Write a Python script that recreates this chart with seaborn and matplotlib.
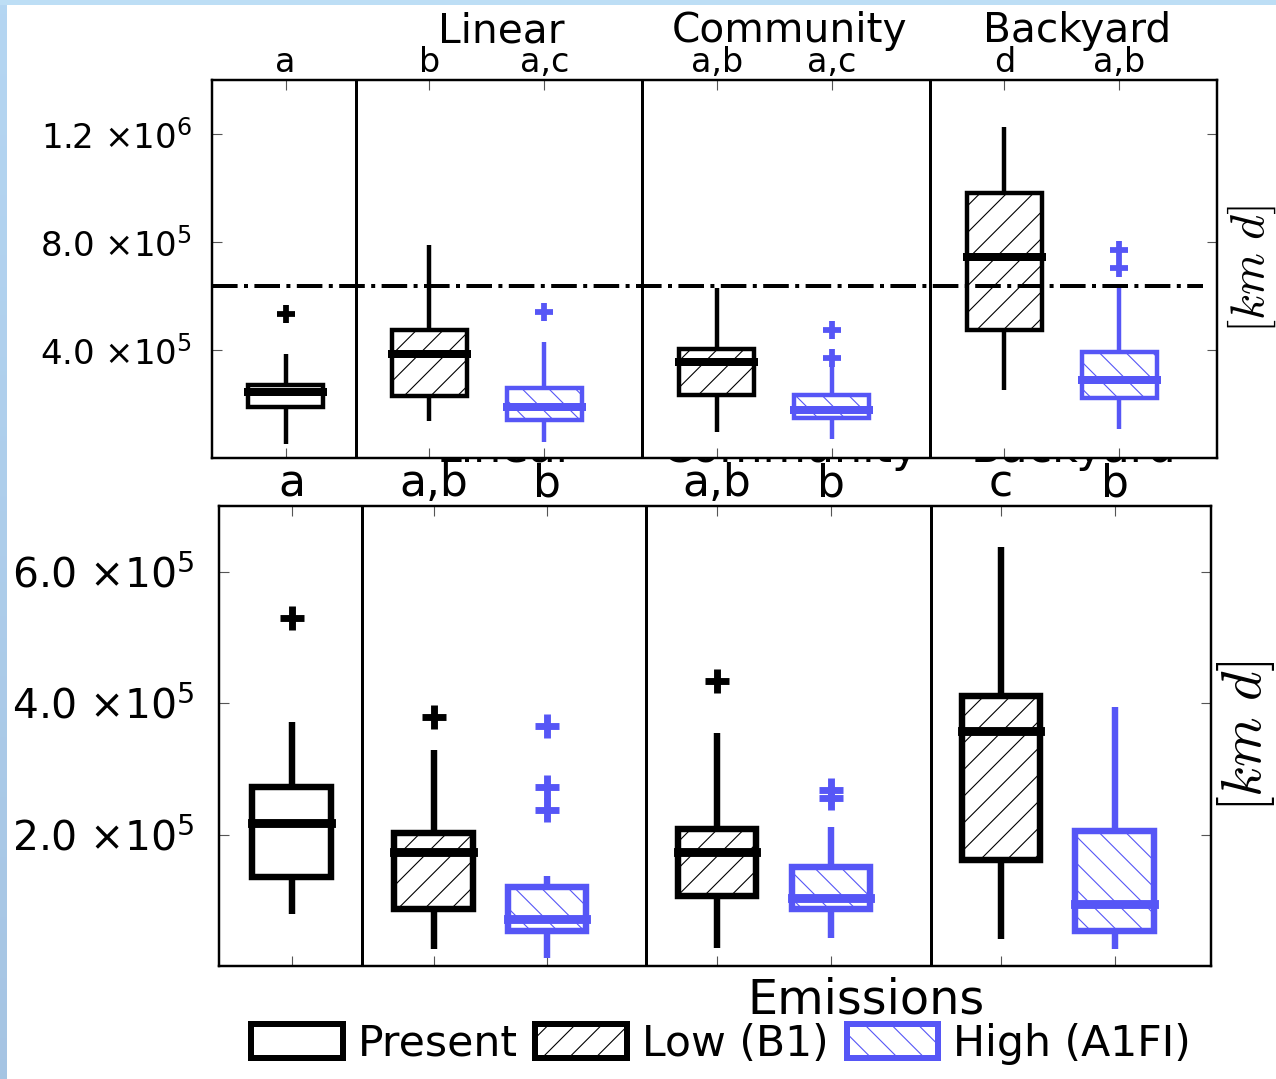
import numpy as np
import matplotlib
matplotlib.use("Agg")
import matplotlib.pyplot as plt
import matplotlib.transforms as mtransforms
from matplotlib.patches import Patch, Rectangle
from matplotlib.ticker import FuncFormatter
import seaborn as sns

sns.set_theme(style="white")
plt.rcParams["font.family"] = ["DejaVu Sans"]
plt.rcParams["mathtext.fontset"] = "dejavusans"
plt.rcParams["hatch.linewidth"] = 0.5
plt.rcParams["text.color"] = "black"
plt.rcParams["xtick.labelcolor"] = "black"
plt.rcParams["ytick.labelcolor"] = "black"

# ---------------- data ----------------
groups = ["Linear", "Community", "Backyard"]
scenarios = ["Present", "Low (B1)", "High (A1FI)"]
box_scenario = ["Present", "Low (B1)", "High (A1FI)", "Low (B1)", "High (A1FI)",
                "Low (B1)", "High (A1FI)"]

# upper panel
top_letters = ["a", "b", "a,c", "a,b", "a,c", "d", "a,b"]
top_whislo = [5.3e4, 1.38e5, 6.1e4, 9.8e4, 7.2e4, 2.53e5, 1.06e5]
top_q1 = [1.9e5, 2.3e5, 1.42e5, 2.34e5, 1.5e5, 4.74e5, 2.24e5]
top_med = [2.45e5, 3.85e5, 1.9e5, 3.56e5, 1.79e5, 7.45e5, 2.9e5]
top_q3 = [2.71e5, 4.74e5, 2.6e5, 4.04e5, 2.34e5, 9.8e5, 3.92e5]
top_whishi = [3.85e5, 7.9e5, 4.3e5, 6.28e5, 3.5e5, 1.226e6, 6.28e5]
top_fliers = [[5.33e5], [], [5.4e5], [], [3.71e5, 4.74e5], [], [7.02e5, 7.72e5]]
top_threshold = 6.36e5
top_yticks = [4e5, 8e5, 1.2e6]

# lower panel
bot_letters = ["a", "a,b", "b", "a,b", "b", "c", "b"]
bot_whislo = [7.9e4, 2.6e4, 1.2e4, 2.8e4, 4.3e4, 4.1e4, 2.6e4]
bot_q1 = [1.35e5, 8.7e4, 5.4e4, 1.07e5, 8.7e4, 1.62e5, 5.4e4]
bot_med = [2.17e5, 1.74e5, 7.2e4, 1.73e5, 1.04e5, 3.57e5, 9.4e4]
bot_q3 = [2.73e5, 2.02e5, 1.2e5, 2.09e5, 1.5e5, 4.11e5, 2.06e5]
bot_whishi = [3.71e5, 3.28e5, 1.37e5, 3.54e5, 2.11e5, 6.38e5, 3.94e5]
bot_fliers = [[5.3e5], [3.79e5], [2.38e5, 2.72e5, 3.65e5], [4.34e5], [2.55e5, 2.68e5], [], []]
bot_yticks = [2e5, 4e5, 6e5]

# ---------------- layout / style ----------------
positions = [0.0, 1.25, 2.25, 3.75, 4.75, 6.25, 7.25]
group_centers = [1.75, 4.25, 6.75]
BLUE = "#5656F6"
colors = {"Present": "black", "Low (B1)": "black", "High (A1FI)": BLUE}
hatches = {"Present": None, "Low (B1)": "//", "High (A1FI)": "\\\\"}
TICK_GREY = "#555555"

DPI = 160
fig = plt.figure(figsize=(1276 / DPI, 1079 / DPI), dpi=DPI, facecolor="white")

# light blue frame at the left and top edges
bg = fig.add_axes([0, 0, 1, 1], zorder=-10)
bg.set_xlim(0, 1276)
bg.set_ylim(1079, 0)
bg.axis("off")
grad = np.linspace(0, 1, 256)[:, None, None]
top_c = np.array([0.71, 0.84, 0.95])
bot_c = np.array([0.65, 0.77, 0.89])
strip = top_c * (1 - grad) + bot_c * grad
bg.imshow(strip, extent=[0, 7, 1079, 0], aspect="auto", interpolation="bilinear")
bg.add_patch(Rectangle((0, 0), 1276, 5, facecolor=(0.74, 0.87, 0.96), edgecolor="none"))


def sci_label(v, _pos=None):
    e = int(np.floor(np.log10(v)))
    m = v / 10 ** e
    return f"{m:.1f} \u00d710$^{{{e}}}$"


def draw_panel(ax, letters, whislo, q1, med, q3, whishi, fliers, ylim, yticks,
               box_w, lw_box, lw_med, ms, mew, fs_letters, fs_y, ypad, xpad, dividers):
    for i, pos in enumerate(positions):
        scen = box_scenario[i]
        col = colors[scen]
        st = dict(med=med[i], q1=q1[i], q3=q3[i], whislo=whislo[i], whishi=whishi[i],
                  fliers=np.array(fliers[i], dtype=float))
        ax.bxp([st], positions=[pos], widths=box_w, patch_artist=True, showcaps=False,
               manage_ticks=False,
               boxprops=dict(facecolor="none", edgecolor=col, linewidth=lw_box,
                             hatch=hatches[scen]),
               medianprops=dict(color=col, linewidth=lw_med, solid_capstyle="projecting"),
               whiskerprops=dict(color=col, linewidth=lw_box, solid_capstyle="butt"),
               flierprops=dict(marker="+", markeredgecolor=col, markerfacecolor=col,
                               markersize=ms, markeredgewidth=mew, linestyle="none"))
    for d in dividers:
        ax.axvline(d, color="black", lw=1.35, zorder=3)
    ax.set_xlim(-0.64, 8.1)
    ax.set_ylim(*ylim)
    ax.set_xticks(positions)
    ax.set_xticklabels(letters, fontsize=fs_letters)
    ax.set_yticks(yticks)
    ax.yaxis.set_major_formatter(FuncFormatter(sci_label))
    ax.tick_params(axis="x", top=True, bottom=True, labeltop=True, labelbottom=False,
                   direction="in", length=4.5, width=0.5, color=TICK_GREY, pad=xpad)
    ax.tick_params(axis="y", left=True, right=True, labelleft=True, labelright=False,
                   direction="in", length=4.5, width=0.5, color=TICK_GREY, pad=ypad,
                   labelsize=fs_y)
    for sp in ax.spines.values():
        sp.set_color("black")
        sp.set_linewidth(1.1)
    ax.set_facecolor("white")


# upper panel
ax1 = fig.add_axes([212 / 1276, 1 - 458 / 1079, 1005 / 1276, 378 / 1079], zorder=3)
draw_panel(ax1, top_letters, top_whislo, top_q1, top_med, top_q3, top_whishi, top_fliers,
           (0, 1.4e6), top_yticks, 0.65, 2.0, 3.6, 8.5, 2.6, 15.0, 15.3, 9, 0.3,
           [0.61, 3.1, 5.6])
ax1.axhline(top_threshold, xmin=0, xmax=0.986, color="black", lw=1.8, ls="-.", zorder=4)
trans1 = mtransforms.blended_transform_factory(ax1.transData, ax1.transAxes)
for g, c in zip(groups, group_centers):
    ax1.text(c + 0.13, 1.1, g, transform=trans1, ha="center", va="baseline",
             fontsize=18.3, clip_on=False)
ax1.text(1.035, 0.5, r"$[km\ d]$", transform=ax1.transAxes, rotation=90,
         ha="center", va="center", fontsize=21.5, math_fontfamily="cm")

# lower panel
ax2 = fig.add_axes([219 / 1276, 1 - 966 / 1079, 992 / 1276, 460 / 1079], zorder=1)
draw_panel(ax2, bot_letters, bot_whislo, bot_q1, bot_med, bot_q3, bot_whishi, bot_fliers,
           (0, 7e5), bot_yticks, 0.69, 2.9, 4.0, 10.8, 3.1, 19.8, 18.4, 11, 0.3,
           [0.62, 3.12, 5.63])
trans2 = mtransforms.blended_transform_factory(ax2.transData, ax2.transAxes)
for g, c in zip(groups, group_centers):
    ax2.text(c + 0.14, 1.0957, g, transform=trans2, ha="center", va="baseline",
             fontsize=20, clip_on=False)
ax2.text(1.035, 0.5, r"$[km\ d]$", transform=ax2.transAxes, rotation=90,
         ha="center", va="center", fontsize=25.5, math_fontfamily="cm")

# legend
handles = [Patch(facecolor="none", edgecolor=colors[s], hatch=hatches[s], linewidth=2.7,
                 label=s) for s in scenarios]
fig.legend(handles=handles, loc="center", bbox_to_anchor=(721 / 1276, 1 - 1044 / 1079),
           ncol=3, frameon=False, fontsize=19.2, handlelength=2.15, handleheight=0.85,
           handletextpad=0.35, columnspacing=0.42, borderpad=0.0)
fig.text(866 / 1276, 1 - 1000 / 1079, "Emissions", ha="center", va="center", fontsize=21.5)

fig.savefig("out.png", dpi=DPI, facecolor="white")
